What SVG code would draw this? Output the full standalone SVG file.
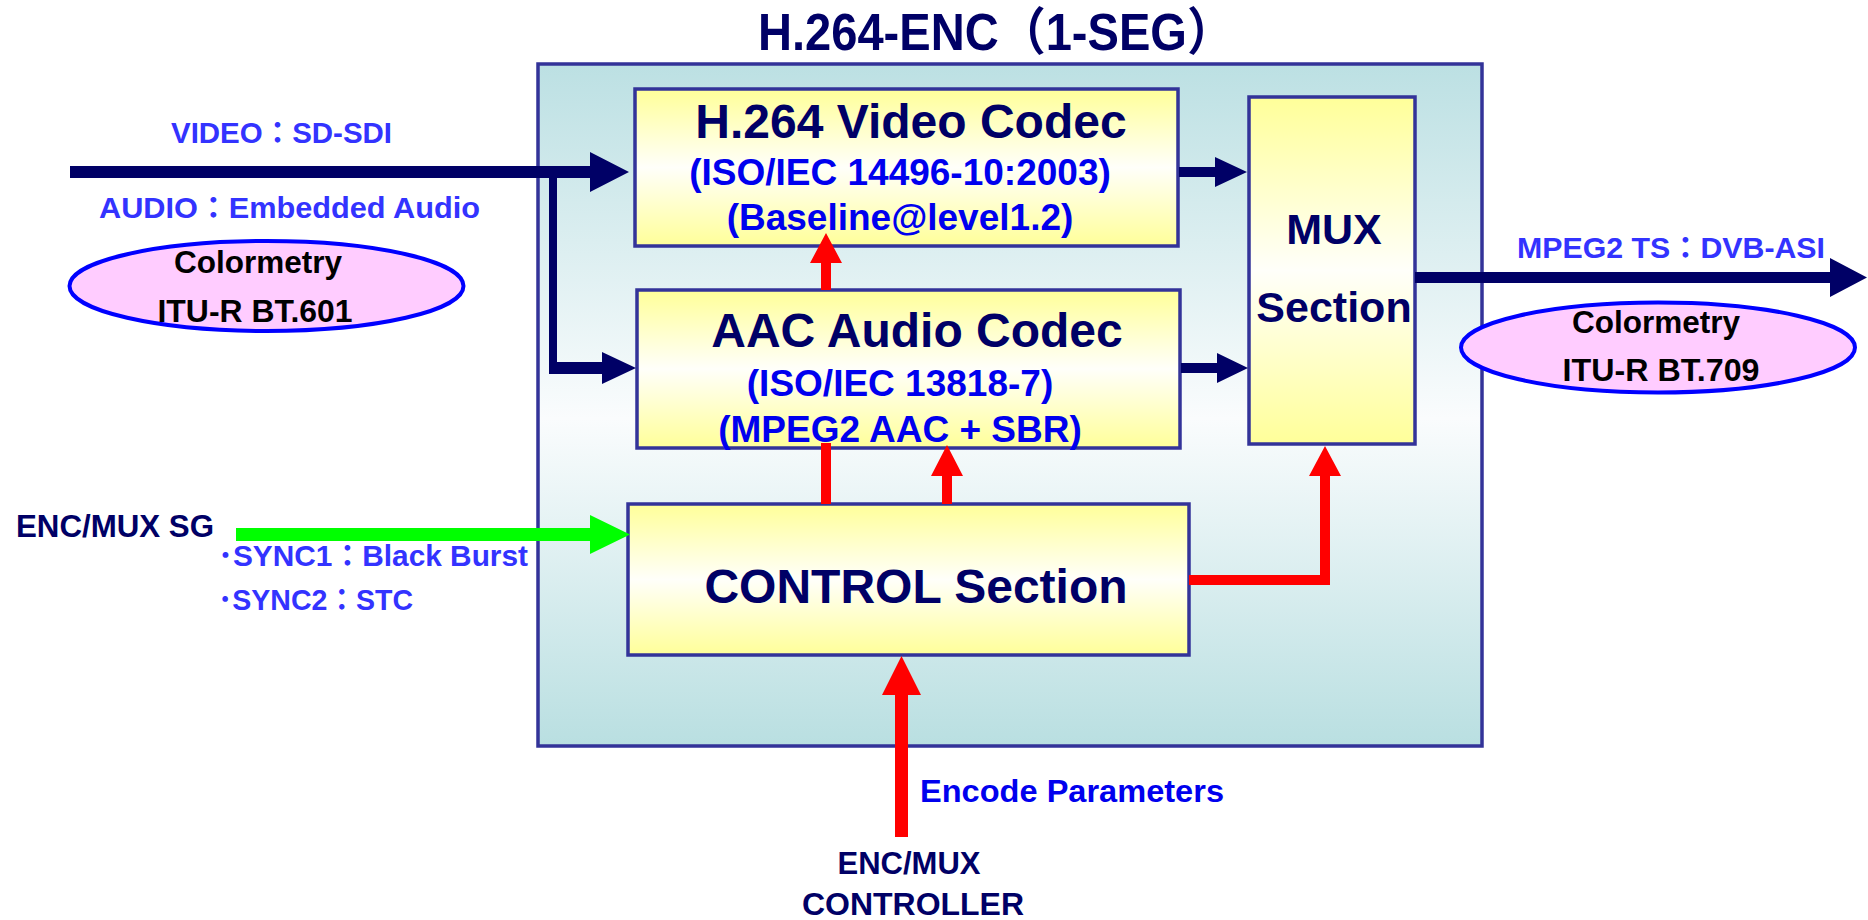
<svg xmlns="http://www.w3.org/2000/svg" width="1868" height="920" viewBox="0 0 1868 920">
  <defs>
    <linearGradient id="gOuter" x1="0" y1="0" x2="0" y2="1">
      <stop offset="0" stop-color="#bce0e3"/>
      <stop offset="0.52" stop-color="#fafcfd"/>
      <stop offset="1" stop-color="#b9dfe1"/>
    </linearGradient>
    <linearGradient id="gBox" x1="0" y1="0" x2="0" y2="1">
      <stop offset="0" stop-color="#ffff99"/>
      <stop offset="0.5" stop-color="#fffffa"/>
      <stop offset="1" stop-color="#ffff99"/>
    </linearGradient>
    <style>
      text { font-family: "Liberation Sans", Arial, "Noto Sans CJK JP", sans-serif; font-weight: bold; }
      .navy { fill: #000066; }
      .sub { fill: #0000ee; font-size: 37px; text-anchor: middle; }
      .lbl { fill: #3333ff; font-size: 30px; }
      .head { font-size: 48px; text-anchor: middle; }
      .ell { fill: #ffccff; stroke: #0000ff; stroke-width: 4; }
      .etx { fill: #000000; font-size: 32px; text-anchor: middle; }
      .box { fill: url(#gBox); stroke: #333399; stroke-width: 3.5; }
      .outer { fill: url(#gOuter); stroke: #333399; stroke-width: 3.5; }
      .an { fill: #000066; }
      .ar { fill: #ff0000; }
      .ag { fill: #00ff00; }
    </style>
  </defs>

  <g id="title">
    <text class="navy" x="996" y="50" font-size="51" text-anchor="middle" textLength="476" lengthAdjust="spacingAndGlyphs">H.264-ENC（1-SEG）</text>
  </g>

  <g id="enc-frame">
    <rect class="outer" x="538" y="64" width="944" height="682"/>
  </g>

  <g id="h264-codec">
    <rect class="box" x="635" y="89" width="543" height="157"/>
    <text class="navy head" x="911" y="138">H.264 Video Codec</text>
    <text class="sub" x="900" y="185">(ISO/IEC 14496-10:2003)</text>
    <text class="sub" x="900" y="230">(Baseline@level1.2)</text>
  </g>

  <g id="aac-codec">
    <rect class="box" x="637" y="290" width="543" height="158"/>
    <text class="navy head" x="917" y="347">AAC Audio Codec</text>
    <text class="sub" x="900" y="396">(ISO/IEC 13818-7)</text>
    <text class="sub" x="900" y="442">(MPEG2 AAC + SBR)</text>
  </g>

  <g id="mux-section">
    <rect class="box" x="1249" y="97" width="166" height="347"/>
    <text class="navy" x="1334" y="244" font-size="43" text-anchor="middle">MUX</text>
    <text class="navy" x="1334" y="322" font-size="43" text-anchor="middle">Section</text>
  </g>

  <g id="control-section">
    <rect class="box" x="628" y="504" width="561" height="151"/>
    <text class="navy head" x="916" y="603">CONTROL Section</text>
  </g>

  <g id="connectors">
    <path class="an" d="M70,166 H590 V152 L629,172 L590,192 V178 H70 Z"/>
    <path class="an" d="M549,172 H557 V362 H602 V352 L636,368 L602,384 V374 H549 Z"/>
    <path class="an" d="M1179,167 H1215 V157 L1247,172 L1215,187 V177 H1179 Z"/>
    <path class="an" d="M1181,363 H1217 V353 L1248,368 L1217,383 V373 H1181 Z"/>
    <path class="an" d="M1415,272 H1830 V258 L1867,277.5 L1830,297 V283 H1415 Z"/>
    <path class="ag" d="M236,528 H590 V515 L630,534.5 L590,554 V541 H236 Z"/>
    <path class="ar" d="M821,290 V263 H810 L826,233 L842,263 H831 V290 Z"/>
    <rect class="ar" x="821" y="443" width="10" height="61"/>
    <path class="ar" d="M942,504 V476 H931 L947,445 L963,476 H952 V504 Z"/>
    <path class="ar" d="M1189,575 H1320 V476 H1309 L1325,446 L1341,476 H1330 V585 H1189 Z"/>
    <path class="ar" d="M895,837 V695 H882 L901.5,656 L921,695 H908 V837 Z"/>
  </g>

  <g id="input-labels">
    <text class="lbl" x="171" y="143" textLength="221" lengthAdjust="spacingAndGlyphs">VIDEO：SD-SDI</text>
    <text class="lbl" x="99" y="218" textLength="381" lengthAdjust="spacingAndGlyphs">AUDIO：Embedded Audio</text>
  </g>

  <g id="colormetry-601">
    <ellipse class="ell" cx="266.5" cy="286" rx="197" ry="45"/>
    <text class="etx" x="258" y="273" textLength="168" lengthAdjust="spacingAndGlyphs">Colormetry</text>
    <text class="etx" x="255" y="322" textLength="195" lengthAdjust="spacingAndGlyphs">ITU-R BT.601</text>
  </g>

  <g id="output-label">
    <text class="lbl" x="1517" y="258" textLength="308" lengthAdjust="spacingAndGlyphs">MPEG2 TS：DVB-ASI</text>
  </g>

  <g id="colormetry-709">
    <ellipse class="ell" cx="1658" cy="347.5" rx="197" ry="45"/>
    <text class="etx" x="1656" y="333" textLength="168" lengthAdjust="spacingAndGlyphs">Colormetry</text>
    <text class="etx" x="1661" y="381" textLength="197" lengthAdjust="spacingAndGlyphs">ITU-R BT.709</text>
  </g>

  <g id="sync-generator">
    <text class="navy" x="16" y="537" font-size="31" textLength="198" lengthAdjust="spacingAndGlyphs">ENC/MUX SG</text>
    <text class="lbl" x="218" y="566" textLength="310" lengthAdjust="spacingAndGlyphs">･SYNC1：Black Burst</text>
    <text class="lbl" x="218" y="610" textLength="195" lengthAdjust="spacingAndGlyphs">･SYNC2：STC</text>
  </g>

  <g id="controller">
    <text x="920" y="802" font-size="31" fill="#0000ee" textLength="304" lengthAdjust="spacingAndGlyphs">Encode Parameters</text>
    <text class="navy" x="909" y="874" font-size="31" text-anchor="middle">ENC/MUX</text>
    <text class="navy" x="913" y="915" font-size="31" text-anchor="middle" textLength="222" lengthAdjust="spacingAndGlyphs">CONTROLLER</text>
  </g>
</svg>
